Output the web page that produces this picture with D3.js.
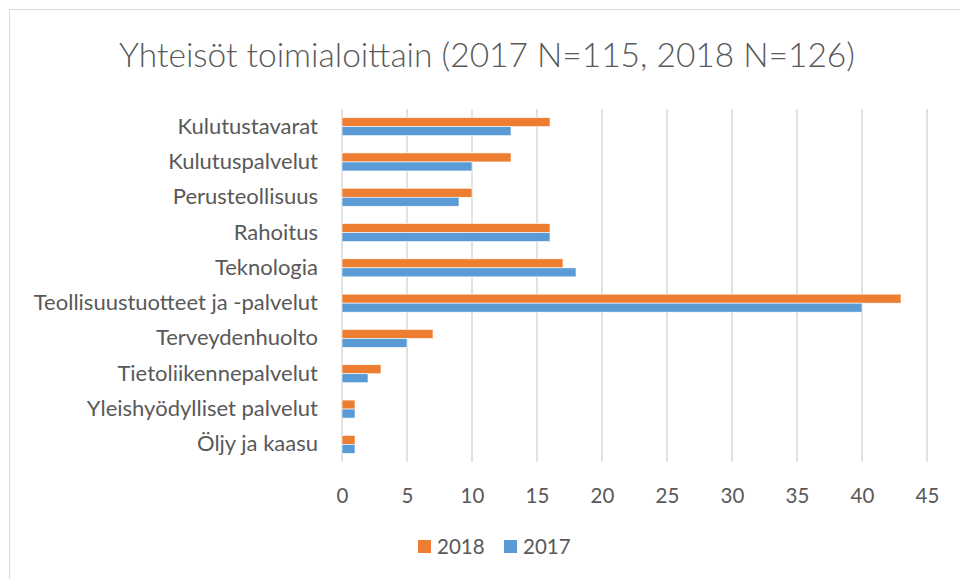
<!DOCTYPE html>
<html lang="fi">
<head>
    <meta charset="UTF-8">
    <title>Yhteisöt toimialoittain</title>
    <script src="https://d3js.org/d3.v7.min.js"></script>
    <style>
        body { margin: 0; background: #fff; }
        text {
            font-family: Lato, 'Open Sans', sans-serif;
            fill: #595959;
        }
    </style>
</head>
<body>
<script>
    const width  = 960;
    const height = 579;

    const categories = ["Kulutustavarat", "Kulutuspalvelut", "Perusteollisuus", "Rahoitus", "Teknologia",
        "Teollisuustuotteet ja -palvelut", "Terveydenhuolto", "Tietoliikennepalvelut",
        "Yleishyödylliset palvelut", "Öljy ja kaasu"];
    const series = ["2018", "2017"];
    const values2018 = [16, 13, 10, 16, 17, 43, 7, 3, 1, 1];
    const values2017 = [13, 10, 9, 16, 18, 40, 5, 2, 1, 1];
    const xTicks = [0, 5, 10, 15, 20, 25, 30, 35, 40, 45];
    const colors = ["#ED7D31", "#5B9BD5"];

    const rows = categories.map((c, i) => ({cat: c, v: [values2018[i], values2017[i]]}));

    const plot = {left: 342, right: 927, top: 109, bottom: 462};

    const x = d3.scaleLinear().domain([0, 45]).range([plot.left, plot.right]);
    const y = d3.scaleBand().domain(categories).range([plot.top, plot.bottom]).paddingInner(0.49).paddingOuter(0.245);
    const ySub = d3.scaleBand().domain(series).range([0, y.bandwidth()]);

    const svg = d3.select("body").append("svg").attr("width", width).attr("height", height);

    // chart border
    svg.append("rect")
        .attr("x", 9.5).attr("y", 9.5)
        .attr("width", 1000).attr("height", 700)
        .attr("fill", "none").attr("stroke", "#d9d9d9");

    svg.append("text")
        .text("Yhteisöt toimialoittain (2017 N=115, 2018 N=126)")
        .attr("x", 487).attr("y", 67)
        .attr("text-anchor", "middle")
        .style("font-size", "33.5px")
        .style("font-weight", 300);

    // gridlines
    svg.append("g").selectAll("line")
        .data(xTicks)
        .enter().append("line")
        .attr("x1", d => x(d)).attr("x2", d => x(d))
        .attr("y1", plot.top).attr("y2", plot.bottom)
        .attr("stroke", "#d9d9d9").attr("stroke-width", 1.5);

    const xAxis = d3.axisBottom(x).tickValues(xTicks).tickSize(0).tickPadding(0);
    const ax = svg.append("g").attr("transform", "translate(0," + (plot.bottom + 41) + ")").call(xAxis);
    ax.select(".domain").remove();
    ax.selectAll("text").attr("dy", 0).style("font-size", "20.5px").attr("fill", "#595959");

    const yAxis = d3.axisLeft(y).tickSize(0).tickPadding(24);
    const ay = svg.append("g").attr("transform", "translate(" + plot.left + ",0)").call(yAxis);
    ay.select(".domain").remove();
    ay.selectAll("text").style("font-size", "22px").attr("fill", "#595959");

    const groups = svg.append("g").selectAll("g")
        .data(rows)
        .enter().append("g")
        .attr("transform", d => "translate(0," + y(d.cat) + ")");

    groups.selectAll("rect")
        .data(d => d.v.map((v, i) => ({s: series[i], v: v, i: i})))
        .enter().append("rect")
        .attr("x", x(0))
        .attr("y", d => ySub(d.s))
        .attr("width", d => x(d.v) - x(0))
        .attr("height", ySub.bandwidth())
        .attr("fill", d => colors[d.i])
        .attr("stroke", "#fff").attr("stroke-width", 0.6);

    // legend
    const legend = svg.append("g").attr("transform", "translate(418,540)");
    const items = legend.selectAll("g")
        .data(series)
        .enter().append("g")
        .attr("transform", (d, i) => "translate(" + (i * 86) + ",0)");
    items.append("rect").attr("width", 13).attr("height", 13).attr("fill", (d, i) => colors[i]);
    items.append("text").text(d => d).attr("x", 19).attr("y", 14).style("font-size", "20.5px");
</script>
</body>
</html>
